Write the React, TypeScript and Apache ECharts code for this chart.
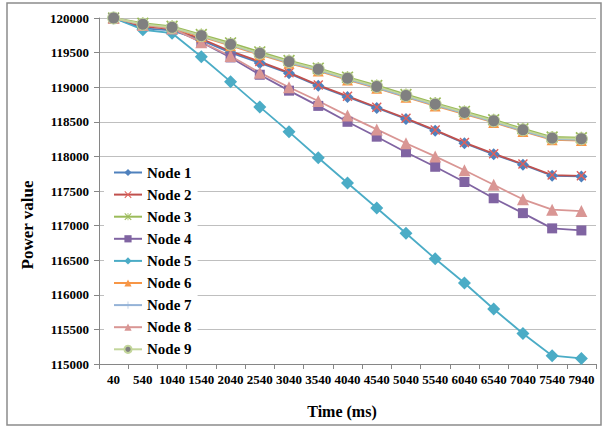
import React, { useEffect, useRef } from 'react';
import * as echarts from 'echarts';

const categories = ['40', '540', '1040', '1540', '2040', '2540', '3040', '3540', '4040', '4540', '5040', '5540', '6040', '6540', '7040', '7540', '7940'];

const node1 = [120000, 119850, 119820, 119680, 119500, 119350, 119200, 119020, 118860, 118700, 118540, 118370, 118190, 118030, 117880, 117720, 117710];
const node2 = [120000, 119880, 119840, 119700, 119520, 119370, 119210, 119030, 118870, 118710, 118550, 118380, 118200, 118040, 117890, 117730, 117720];
const node3 = [120000, 119925, 119880, 119760, 119640, 119510, 119385, 119275, 119145, 119025, 118895, 118770, 118650, 118530, 118400, 118280, 118270];
const node4 = [120000, 119900, 119850, 119650, 119430, 119180, 118950, 118730, 118500, 118285, 118060, 117850, 117630, 117395, 117180, 116960, 116930];
const node5 = [120000, 119830, 119780, 119440, 119080, 118715, 118355, 117980, 117615, 117255, 116890, 116520, 116170, 115795, 115440, 115120, 115080];
const node6 = [120000, 119900, 119850, 119730, 119600, 119470, 119345, 119235, 119105, 118985, 118855, 118730, 118610, 118490, 118360, 118240, 118230];
const node7 = [120000, 119905, 119860, 119740, 119610, 119480, 119355, 119245, 119115, 118995, 118865, 118740, 118620, 118500, 118370, 118250, 118240];
const node8 = [120000, 119900, 119850, 119650, 119450, 119210, 119000, 118800, 118590, 118390, 118190, 118000, 117800, 117590, 117380, 117230, 117210];
const node9 = [120000, 119910, 119865, 119745, 119620, 119490, 119370, 119260, 119130, 119010, 118880, 118755, 118635, 118515, 118385, 118265, 118255];

const seriesNames = ['Node 1', 'Node 2', 'Node 3', 'Node 4', 'Node 5', 'Node 6', 'Node 7', 'Node 8', 'Node 9'];

const X_SYM = 'path://M0,1 L1,0 L5,4 L9,0 L10,1 L6,5 L10,9 L9,10 L5,6 L1,10 L0,9 L4,5 Z';
const PLUS_SYM = 'path://M4.6,0 L5.4,0 L5.4,4.6 L10,4.6 L10,5.4 L5.4,5.4 L5.4,10 L4.6,10 L4.6,5.4 L0,5.4 L0,4.6 L4.6,4.6 Z';
const STAR_SYM = 'path://M0,1 L1,0 L5,4 L9,0 L10,1 L6,5 L10,9 L9,10 L5,6 L1,10 L0,9 L4,5 Z M4.5,0 L4.5,10 L5.5,10 L5.5,0 Z';

export default function App() {
  const ref = useRef<HTMLDivElement>(null);
  useEffect(() => {
    const chart = echarts.init(ref.current!, null, { renderer: 'svg' });
    const font = 'Liberation Serif';
    const mk = (name: string, data: number[], line: string, symbol: string, symColor: string, size: number, border?: string) => ({
      name,
      type: 'line',
      data,
      symbol,
      symbolSize: size,
      lineStyle: { color: line, width: 1.8 },
      itemStyle: { color: symColor, borderColor: border || symColor, borderWidth: border ? 1 : 0 },
    });
    chart.setOption({
      animation: false,
      backgroundColor: '#ffffff',
      textStyle: { fontFamily: font },
      grid: { left: 99, right: 6, top: 18, bottom: 63, containLabel: false },
      legend: {
        orient: 'vertical',
        left: 104,
        top: 161,
        backgroundColor: '#ffffff',
        padding: [4, 6, 4, 9],
        itemWidth: 28,
        itemHeight: 9,
        itemGap: 7.1,
        data: seriesNames,
        textStyle: { fontFamily: font, fontWeight: 'bold', fontSize: 15, color: '#000' },
      },
      xAxis: {
        type: 'category',
        data: categories,
        boundaryGap: true,
        axisLine: { lineStyle: { color: '#868686' } },
        axisTick: { show: true, alignWithLabel: false, length: 5, lineStyle: { color: '#868686' } },
        axisLabel: { interval: 0, margin: 9, fontFamily: font, fontWeight: 'bold', fontSize: 13, color: '#000' },
        splitLine: { show: false },
      },
      yAxis: {
        type: 'value',
        min: 115000,
        max: 120000,
        interval: 500,
        axisLine: { show: true, lineStyle: { color: '#868686' } },
        axisTick: { show: true, length: 5, lineStyle: { color: '#868686' } },
        axisLabel: { margin: 10, fontFamily: font, fontWeight: 'bold', fontSize: 13, color: '#000', formatter: (v: number) => String(v) },
        splitLine: { show: true, lineStyle: { color: '#bfbfbf' } },
      },
      graphic: [
        {
          type: 'rect',
          shape: { x: 7, y: 3, width: 594, height: 422 },
          style: { fill: 'none', stroke: '#8c8c8c', lineWidth: 1.5 },
          silent: true,
        },
        {
          type: 'text',
          x: 27,
          y: 225,
          rotation: Math.PI / 2,
          style: { text: 'Power value', fontFamily: font, fontWeight: 'bold', fontSize: 17, fill: '#000', textAlign: 'center', textVerticalAlign: 'middle' },
        },
        {
          type: 'text',
          x: 342,
          y: 411,
          style: { text: 'Time (ms)', fontFamily: font, fontWeight: 'bold', fontSize: 16, fill: '#000', textAlign: 'center', textVerticalAlign: 'middle' },
        },
      ],
      series: [
        mk('Node 1', node1, '#4F81BD', 'diamond', '#4F81BD', 12),
        mk('Node 2', node2, '#C0504D', X_SYM, '#E0605A', 10),
        mk('Node 3', node3, '#9BBB59', STAR_SYM, '#9BBB59', 12),
        mk('Node 4', node4, '#8064A2', 'rect', '#8064A2', 10),
        mk('Node 5', node5, '#4BACC6', 'diamond', '#4BACC6', 13),
        mk('Node 6', node6, '#F79646', 'triangle', '#F79646', 11),
        mk('Node 7', node7, '#95B3D7', PLUS_SYM, '#95B3D7', 11),
        mk('Node 8', node8, '#D99694', 'triangle', '#D99694', 12),
        mk('Node 9', node9, '#C3D69B', 'circle', '#808080', 12, '#C3D69B'),
      ],
    });
    return () => chart.dispose();
  }, []);
  return <div ref={ref} style={{ position: 'fixed', left: 0, top: 0, width: 602, height: 427, background: '#fff' }} />;
}
